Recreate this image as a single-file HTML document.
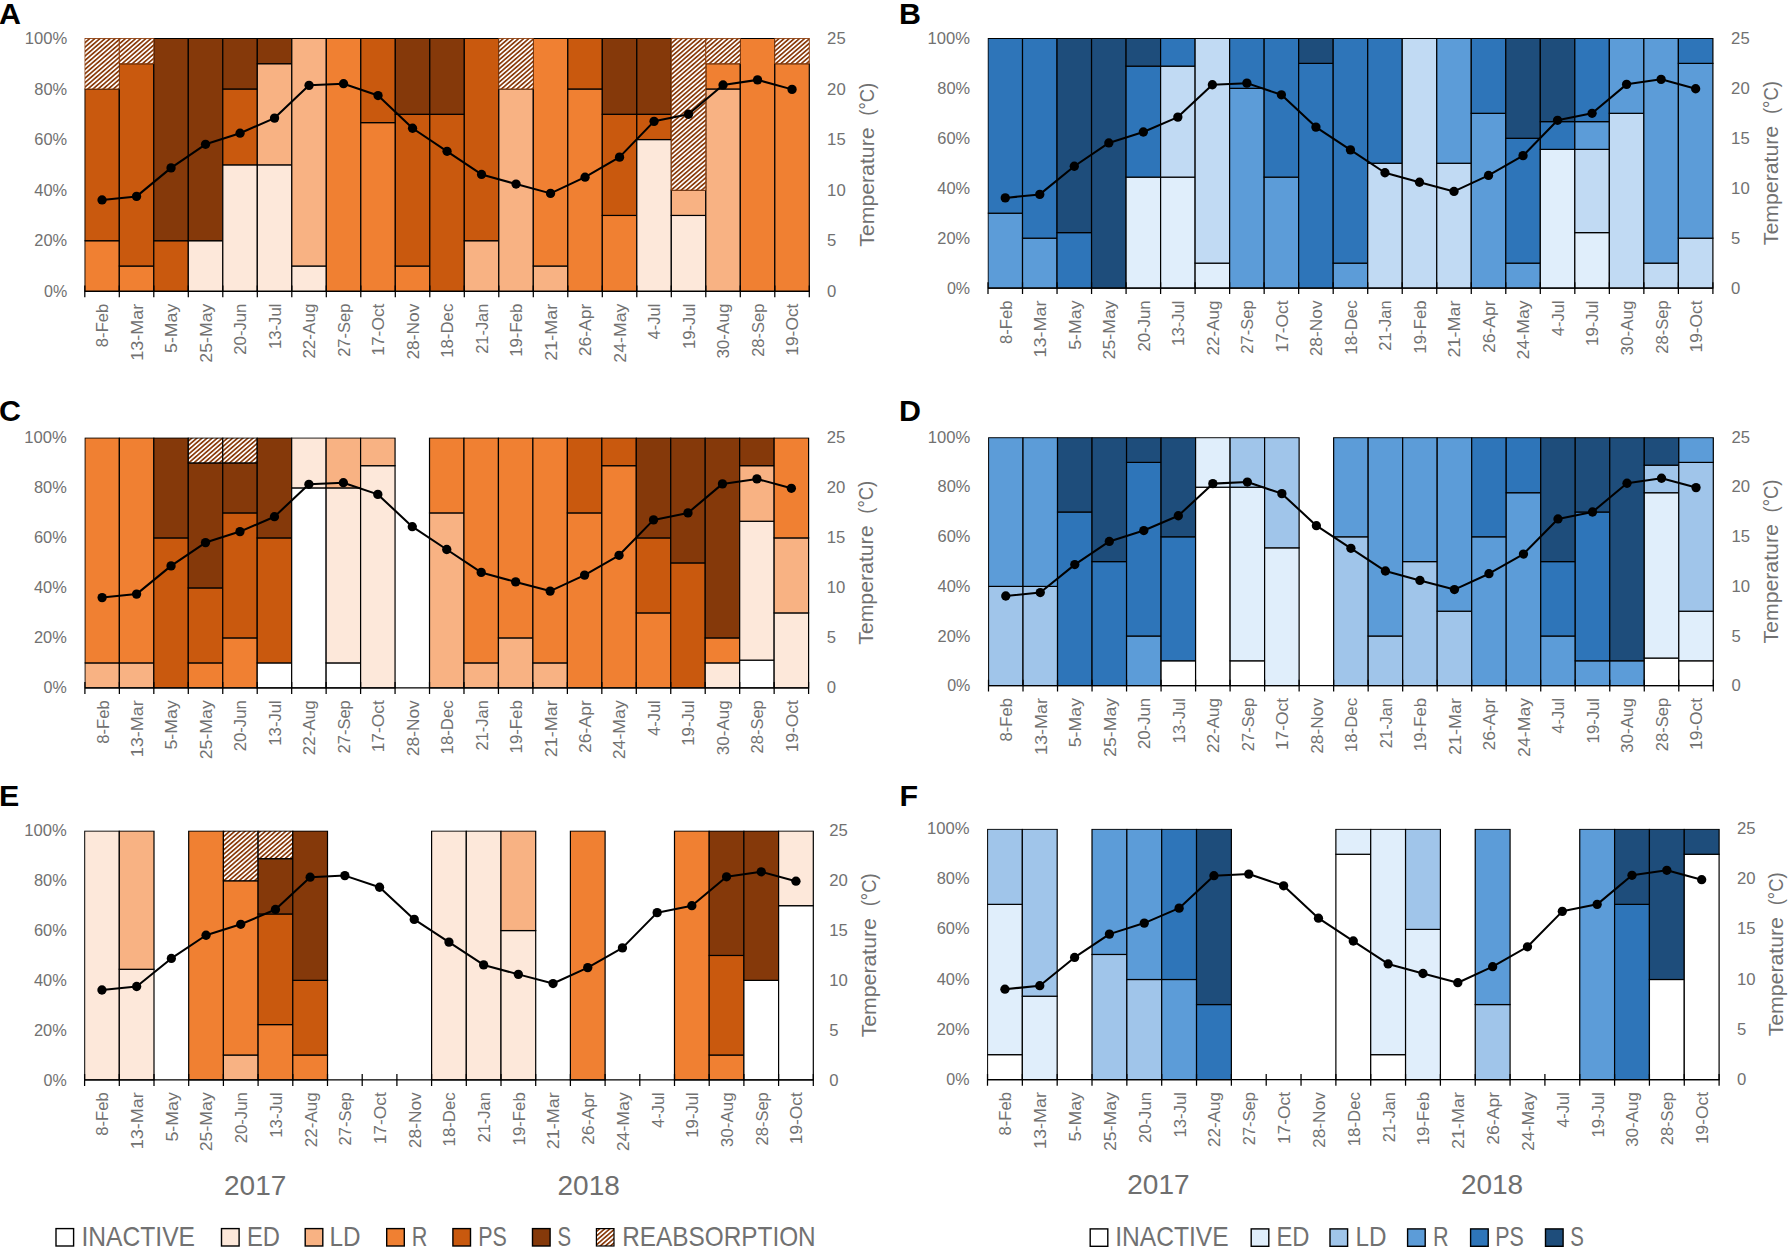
<!DOCTYPE html>
<html lang="en"><head><meta charset="utf-8"><title>Gonad stage frequency and temperature</title>
<style>html,body{margin:0;padding:0;background:#fff}body{width:1790px;height:1249px;overflow:hidden}svg{display:block;font-family:"Liberation Sans",sans-serif}</style></head><body>
<svg width="1790" height="1249" viewBox="0 0 1790 1249" fill="#717171">
<defs><pattern id="hatch" patternUnits="userSpaceOnUse" width="3.35" height="3.35" patternTransform="rotate(-41)"><rect width="3.35" height="3.35" fill="#fff"/><rect y="0" width="3.35" height="1.7" fill="#8A3C0C"/></pattern></defs>
<rect width="1790" height="1249" fill="#fff"/>
<g id="panelA">
<clipPath id="clipA"><rect x="84.4" y="38" width="726.5" height="254.9"/></clipPath>
<g stroke="#000" stroke-width="1.2" clip-path="url(#clipA)">
<rect x="84.8" y="240.72" width="34.5" height="50.58" fill="#F08032"/>
<rect x="84.8" y="88.98" width="34.5" height="151.74" fill="#C9590E"/>
<rect x="119.3" y="266.01" width="34.5" height="25.29" fill="#F08032"/>
<rect x="119.3" y="63.69" width="34.5" height="202.32" fill="#C9590E"/>
<rect x="153.8" y="240.72" width="34.5" height="50.58" fill="#C9590E"/>
<rect x="153.8" y="38.4" width="34.5" height="202.32" fill="#85390A"/>
<rect x="188.3" y="240.72" width="34.5" height="50.58" fill="#FDE8DA"/>
<rect x="188.3" y="38.4" width="34.5" height="202.32" fill="#85390A"/>
<rect x="222.8" y="164.85" width="34.5" height="126.45" fill="#FDE8DA"/>
<rect x="222.8" y="88.98" width="34.5" height="75.87" fill="#C9590E"/>
<rect x="222.8" y="38.4" width="34.5" height="50.58" fill="#85390A"/>
<rect x="257.3" y="164.85" width="34.5" height="126.45" fill="#FDE8DA"/>
<rect x="257.3" y="63.69" width="34.5" height="101.16" fill="#F8B283"/>
<rect x="257.3" y="38.4" width="34.5" height="25.29" fill="#85390A"/>
<rect x="291.8" y="266.01" width="34.5" height="25.29" fill="#FDE8DA"/>
<rect x="291.8" y="38.4" width="34.5" height="227.61" fill="#F8B283"/>
<rect x="326.3" y="38.4" width="34.5" height="252.9" fill="#F08032"/>
<rect x="360.8" y="122.62" width="34.5" height="168.68" fill="#F08032"/>
<rect x="360.8" y="38.4" width="34.5" height="84.22" fill="#C9590E"/>
<rect x="395.3" y="266.01" width="34.5" height="25.29" fill="#F08032"/>
<rect x="395.3" y="114.27" width="34.5" height="151.74" fill="#C9590E"/>
<rect x="395.3" y="38.4" width="34.5" height="75.87" fill="#85390A"/>
<rect x="429.8" y="114.27" width="34.5" height="177.03" fill="#C9590E"/>
<rect x="429.8" y="38.4" width="34.5" height="75.87" fill="#85390A"/>
<rect x="464.3" y="240.72" width="34.5" height="50.58" fill="#F8B283"/>
<rect x="464.3" y="38.4" width="34.5" height="202.32" fill="#C9590E"/>
<rect x="498.8" y="88.98" width="34.5" height="202.32" fill="#F8B283"/>
<rect x="533.3" y="266.01" width="34.5" height="25.29" fill="#F8B283"/>
<rect x="533.3" y="38.4" width="34.5" height="227.61" fill="#F08032"/>
<rect x="567.8" y="88.98" width="34.5" height="202.32" fill="#F08032"/>
<rect x="567.8" y="38.4" width="34.5" height="50.58" fill="#C9590E"/>
<rect x="602.3" y="215.43" width="34.5" height="75.87" fill="#F08032"/>
<rect x="602.3" y="114.27" width="34.5" height="101.16" fill="#C9590E"/>
<rect x="602.3" y="38.4" width="34.5" height="75.87" fill="#85390A"/>
<rect x="636.8" y="139.56" width="34.5" height="151.74" fill="#FDE8DA"/>
<rect x="636.8" y="114.27" width="34.5" height="25.29" fill="#C9590E"/>
<rect x="636.8" y="38.4" width="34.5" height="75.87" fill="#85390A"/>
<rect x="671.3" y="215.43" width="34.5" height="75.87" fill="#FDE8DA"/>
<rect x="671.3" y="190.14" width="34.5" height="25.29" fill="#F8B283"/>
<rect x="705.8" y="88.98" width="34.5" height="202.32" fill="#F8B283"/>
<rect x="705.8" y="63.69" width="34.5" height="25.29" fill="#F08032"/>
<rect x="740.3" y="38.4" width="34.5" height="252.9" fill="#F08032"/>
<rect x="774.8" y="63.69" width="34.5" height="227.61" fill="#F08032"/>
</g>
<g stroke="#8A3C0C" stroke-width="0.9" clip-path="url(#clipA)">
<rect x="84.8" y="38.4" width="34.5" height="50.58" fill="url(#hatch)"/>
<rect x="119.3" y="38.4" width="34.5" height="25.29" fill="url(#hatch)"/>
<rect x="498.8" y="38.4" width="34.5" height="50.58" fill="url(#hatch)"/>
<rect x="671.3" y="38.4" width="34.5" height="151.74" fill="url(#hatch)"/>
<rect x="705.8" y="38.4" width="34.5" height="25.29" fill="url(#hatch)"/>
<rect x="774.8" y="38.4" width="34.5" height="25.29" fill="url(#hatch)"/>
</g>
<path d="M84.2 291.3H809.9M84.8 285.5V297.3M119.3 285.5V297.3M153.8 285.5V297.3M188.3 285.5V297.3M222.8 285.5V297.3M257.3 285.5V297.3M291.8 285.5V297.3M326.3 285.5V297.3M360.8 285.5V297.3M395.3 285.5V297.3M429.8 285.5V297.3M464.3 285.5V297.3M498.8 285.5V297.3M533.3 285.5V297.3M567.8 285.5V297.3M602.3 285.5V297.3M636.8 285.5V297.3M671.3 285.5V297.3M705.8 285.5V297.3M740.3 285.5V297.3M774.8 285.5V297.3M809.3 285.5V297.3" stroke="#000" stroke-width="1.25" fill="none"/>
<polyline points="102.05,199.95 136.55,196.41 171.05,167.88 205.55,144.31 240.05,133.19 274.55,118.11 309.05,85.34 343.55,83.72 378.05,95.56 412.55,128.23 447.05,151.29 481.55,174.46 516.05,184.07 550.55,193.38 585.05,177.19 619.55,157.16 654.05,121.35 688.55,114.27 723.05,84.93 757.55,79.88 792.05,89.38" fill="none" stroke="#000" stroke-width="2.05" stroke-linejoin="round"/>
<g fill="#000"><circle cx="102.05" cy="199.95" r="4.65"/><circle cx="136.55" cy="196.41" r="4.65"/><circle cx="171.05" cy="167.88" r="4.65"/><circle cx="205.55" cy="144.31" r="4.65"/><circle cx="240.05" cy="133.19" r="4.65"/><circle cx="274.55" cy="118.11" r="4.65"/><circle cx="309.05" cy="85.34" r="4.65"/><circle cx="343.55" cy="83.72" r="4.65"/><circle cx="378.05" cy="95.56" r="4.65"/><circle cx="412.55" cy="128.23" r="4.65"/><circle cx="447.05" cy="151.29" r="4.65"/><circle cx="481.55" cy="174.46" r="4.65"/><circle cx="516.05" cy="184.07" r="4.65"/><circle cx="550.55" cy="193.38" r="4.65"/><circle cx="585.05" cy="177.19" r="4.65"/><circle cx="619.55" cy="157.16" r="4.65"/><circle cx="654.05" cy="121.35" r="4.65"/><circle cx="688.55" cy="114.27" r="4.65"/><circle cx="723.05" cy="84.93" r="4.65"/><circle cx="757.55" cy="79.88" r="4.65"/><circle cx="792.05" cy="89.38" r="4.65"/></g>
<text x="67.2" y="296.9" font-size="17" text-anchor="end" textLength="23.22" lengthAdjust="spacingAndGlyphs">0%</text>
<text x="67.2" y="246.38" font-size="17" text-anchor="end" textLength="32.85" lengthAdjust="spacingAndGlyphs">20%</text>
<text x="67.2" y="195.86" font-size="17" text-anchor="end" textLength="32.85" lengthAdjust="spacingAndGlyphs">40%</text>
<text x="67.2" y="145.34" font-size="17" text-anchor="end" textLength="32.85" lengthAdjust="spacingAndGlyphs">60%</text>
<text x="67.2" y="94.82" font-size="17" text-anchor="end" textLength="32.85" lengthAdjust="spacingAndGlyphs">80%</text>
<text x="67.2" y="44.3" font-size="17" text-anchor="end" textLength="42.48" lengthAdjust="spacingAndGlyphs">100%</text>
<text x="827.1" y="296.9" font-size="17" textLength="9.3" lengthAdjust="spacingAndGlyphs">0</text>
<text x="827.1" y="246.38" font-size="17" textLength="9.3" lengthAdjust="spacingAndGlyphs">5</text>
<text x="827.1" y="195.86" font-size="17" textLength="18.59" lengthAdjust="spacingAndGlyphs">10</text>
<text x="827.1" y="145.34" font-size="17" textLength="18.59" lengthAdjust="spacingAndGlyphs">15</text>
<text x="827.1" y="94.82" font-size="17" textLength="18.59" lengthAdjust="spacingAndGlyphs">20</text>
<text x="827.1" y="44.3" font-size="17" textLength="18.59" lengthAdjust="spacingAndGlyphs">25</text>
<text x="873.6" y="246.75" font-size="21" textLength="119.3" lengthAdjust="spacingAndGlyphs" transform="rotate(-90 873.6 246.75)">Temperature</text>
<text x="873.6" y="115.65" font-size="21" textLength="32.8" lengthAdjust="spacingAndGlyphs" transform="rotate(-90 873.6 115.65)">(°C)</text>
<text x="108.45" y="303.6" font-size="17" text-anchor="end" textLength="43.6" lengthAdjust="spacingAndGlyphs" transform="rotate(-90 108.45 303.6)">8-Feb</text>
<text x="142.95" y="303.6" font-size="17" text-anchor="end" textLength="57.06" lengthAdjust="spacingAndGlyphs" transform="rotate(-90 142.95 303.6)">13-Mar</text>
<text x="177.45" y="303.6" font-size="17" text-anchor="end" textLength="49.4" lengthAdjust="spacingAndGlyphs" transform="rotate(-90 177.45 303.6)">5-May</text>
<text x="211.95" y="303.6" font-size="17" text-anchor="end" textLength="59.03" lengthAdjust="spacingAndGlyphs" transform="rotate(-90 211.95 303.6)">25-May</text>
<text x="246.45" y="303.6" font-size="17" text-anchor="end" textLength="51.09" lengthAdjust="spacingAndGlyphs" transform="rotate(-90 246.45 303.6)">20-Jun</text>
<text x="280.95" y="303.6" font-size="17" text-anchor="end" textLength="45.47" lengthAdjust="spacingAndGlyphs" transform="rotate(-90 280.95 303.6)">13-Jul</text>
<text x="315.45" y="303.6" font-size="17" text-anchor="end" textLength="55.01" lengthAdjust="spacingAndGlyphs" transform="rotate(-90 315.45 303.6)">22-Aug</text>
<text x="349.95" y="303.6" font-size="17" text-anchor="end" textLength="53.24" lengthAdjust="spacingAndGlyphs" transform="rotate(-90 349.95 303.6)">27-Sep</text>
<text x="384.45" y="303.6" font-size="17" text-anchor="end" textLength="52.06" lengthAdjust="spacingAndGlyphs" transform="rotate(-90 384.45 303.6)">17-Oct</text>
<text x="418.95" y="303.6" font-size="17" text-anchor="end" textLength="55.96" lengthAdjust="spacingAndGlyphs" transform="rotate(-90 418.95 303.6)">28-Nov</text>
<text x="453.45" y="303.6" font-size="17" text-anchor="end" textLength="54.26" lengthAdjust="spacingAndGlyphs" transform="rotate(-90 453.45 303.6)">18-Dec</text>
<text x="487.95" y="303.6" font-size="17" text-anchor="end" textLength="50.22" lengthAdjust="spacingAndGlyphs" transform="rotate(-90 487.95 303.6)">21-Jan</text>
<text x="522.45" y="303.6" font-size="17" text-anchor="end" textLength="53.24" lengthAdjust="spacingAndGlyphs" transform="rotate(-90 522.45 303.6)">19-Feb</text>
<text x="556.95" y="303.6" font-size="17" text-anchor="end" textLength="57.06" lengthAdjust="spacingAndGlyphs" transform="rotate(-90 556.95 303.6)">21-Mar</text>
<text x="591.45" y="303.6" font-size="17" text-anchor="end" textLength="52.69" lengthAdjust="spacingAndGlyphs" transform="rotate(-90 591.45 303.6)">26-Apr</text>
<text x="625.95" y="303.6" font-size="17" text-anchor="end" textLength="59.03" lengthAdjust="spacingAndGlyphs" transform="rotate(-90 625.95 303.6)">24-May</text>
<text x="660.45" y="303.6" font-size="17" text-anchor="end" textLength="35.83" lengthAdjust="spacingAndGlyphs" transform="rotate(-90 660.45 303.6)">4-Jul</text>
<text x="694.95" y="303.6" font-size="17" text-anchor="end" textLength="45.47" lengthAdjust="spacingAndGlyphs" transform="rotate(-90 694.95 303.6)">19-Jul</text>
<text x="729.45" y="303.6" font-size="17" text-anchor="end" textLength="55.01" lengthAdjust="spacingAndGlyphs" transform="rotate(-90 729.45 303.6)">30-Aug</text>
<text x="763.95" y="303.6" font-size="17" text-anchor="end" textLength="53.24" lengthAdjust="spacingAndGlyphs" transform="rotate(-90 763.95 303.6)">28-Sep</text>
<text x="798.45" y="303.6" font-size="17" text-anchor="end" textLength="52.06" lengthAdjust="spacingAndGlyphs" transform="rotate(-90 798.45 303.6)">19-Oct</text>
<text x="-1" y="24.4" font-size="30.4" fill="#000" font-weight="bold">A</text>
</g>
<g id="panelB">
<clipPath id="clipB"><rect x="987.6" y="38" width="726.9" height="251.7"/></clipPath>
<g stroke="#000" stroke-width="1.2" clip-path="url(#clipB)">
<rect x="988" y="213.19" width="34.52" height="74.91" fill="#5C9CD8"/>
<rect x="988" y="38.4" width="34.52" height="174.79" fill="#2E75B9"/>
<rect x="1022.52" y="238.16" width="34.52" height="49.94" fill="#5C9CD8"/>
<rect x="1022.52" y="38.4" width="34.52" height="199.76" fill="#2E75B9"/>
<rect x="1057.04" y="232.61" width="34.52" height="55.49" fill="#2E75B9"/>
<rect x="1057.04" y="38.4" width="34.52" height="194.21" fill="#1E4D7B"/>
<rect x="1091.56" y="38.4" width="34.52" height="249.7" fill="#1E4D7B"/>
<rect x="1126.08" y="177.12" width="34.52" height="110.98" fill="#E0EEFB"/>
<rect x="1126.08" y="66.14" width="34.52" height="110.98" fill="#2E75B9"/>
<rect x="1126.08" y="38.4" width="34.52" height="27.74" fill="#1E4D7B"/>
<rect x="1160.6" y="177.12" width="34.52" height="110.98" fill="#E0EEFB"/>
<rect x="1160.6" y="66.14" width="34.52" height="110.98" fill="#C1DAF3"/>
<rect x="1160.6" y="38.4" width="34.52" height="27.74" fill="#2E75B9"/>
<rect x="1195.11" y="263.13" width="34.52" height="24.97" fill="#E0EEFB"/>
<rect x="1195.11" y="38.4" width="34.52" height="224.73" fill="#C1DAF3"/>
<rect x="1229.63" y="88.34" width="34.52" height="199.76" fill="#5C9CD8"/>
<rect x="1229.63" y="38.4" width="34.52" height="49.94" fill="#2E75B9"/>
<rect x="1264.15" y="177.12" width="34.52" height="110.98" fill="#5C9CD8"/>
<rect x="1264.15" y="38.4" width="34.52" height="138.72" fill="#2E75B9"/>
<rect x="1298.67" y="63.37" width="34.52" height="224.73" fill="#2E75B9"/>
<rect x="1298.67" y="38.4" width="34.52" height="24.97" fill="#1E4D7B"/>
<rect x="1333.19" y="263.13" width="34.52" height="24.97" fill="#5C9CD8"/>
<rect x="1333.19" y="38.4" width="34.52" height="224.73" fill="#2E75B9"/>
<rect x="1367.71" y="163.25" width="34.52" height="124.85" fill="#C1DAF3"/>
<rect x="1367.71" y="38.4" width="34.52" height="124.85" fill="#2E75B9"/>
<rect x="1402.23" y="38.4" width="34.52" height="249.7" fill="#C1DAF3"/>
<rect x="1436.75" y="163.25" width="34.52" height="124.85" fill="#C1DAF3"/>
<rect x="1436.75" y="38.4" width="34.52" height="124.85" fill="#5C9CD8"/>
<rect x="1471.27" y="113.31" width="34.52" height="174.79" fill="#5C9CD8"/>
<rect x="1471.27" y="38.4" width="34.52" height="74.91" fill="#2E75B9"/>
<rect x="1505.79" y="263.13" width="34.52" height="24.97" fill="#5C9CD8"/>
<rect x="1505.79" y="138.28" width="34.52" height="124.85" fill="#2E75B9"/>
<rect x="1505.79" y="38.4" width="34.52" height="99.88" fill="#1E4D7B"/>
<rect x="1540.3" y="149.38" width="34.52" height="138.72" fill="#E0EEFB"/>
<rect x="1540.3" y="121.63" width="34.52" height="27.74" fill="#2E75B9"/>
<rect x="1540.3" y="38.4" width="34.52" height="83.23" fill="#1E4D7B"/>
<rect x="1574.82" y="232.61" width="34.52" height="55.49" fill="#E0EEFB"/>
<rect x="1574.82" y="149.38" width="34.52" height="83.23" fill="#C1DAF3"/>
<rect x="1574.82" y="121.63" width="34.52" height="27.74" fill="#5C9CD8"/>
<rect x="1574.82" y="38.4" width="34.52" height="83.23" fill="#2E75B9"/>
<rect x="1609.34" y="113.31" width="34.52" height="174.79" fill="#C1DAF3"/>
<rect x="1609.34" y="38.4" width="34.52" height="74.91" fill="#5C9CD8"/>
<rect x="1643.86" y="263.13" width="34.52" height="24.97" fill="#C1DAF3"/>
<rect x="1643.86" y="38.4" width="34.52" height="224.73" fill="#5C9CD8"/>
<rect x="1678.38" y="238.16" width="34.52" height="49.94" fill="#C1DAF3"/>
<rect x="1678.38" y="63.37" width="34.52" height="174.79" fill="#5C9CD8"/>
<rect x="1678.38" y="38.4" width="34.52" height="24.97" fill="#2E75B9"/>
</g>
<path d="M987.4 288.1H1713.5M988 282.3V294.1M1022.52 282.3V294.1M1057.04 282.3V294.1M1091.56 282.3V294.1M1126.08 282.3V294.1M1160.6 282.3V294.1M1195.11 282.3V294.1M1229.63 282.3V294.1M1264.15 282.3V294.1M1298.67 282.3V294.1M1333.19 282.3V294.1M1367.71 282.3V294.1M1402.23 282.3V294.1M1436.75 282.3V294.1M1471.27 282.3V294.1M1505.79 282.3V294.1M1540.3 282.3V294.1M1574.82 282.3V294.1M1609.34 282.3V294.1M1643.86 282.3V294.1M1678.38 282.3V294.1M1712.9 282.3V294.1" stroke="#000" stroke-width="1.25" fill="none"/>
<polyline points="1005.26,197.91 1039.78,194.41 1074.3,166.25 1108.82,142.97 1143.34,131.99 1177.85,117.11 1212.37,84.74 1246.89,83.15 1281.41,94.83 1315.93,127.09 1350.45,149.87 1384.97,172.74 1419.49,182.23 1454.01,191.42 1488.53,175.44 1523.05,155.66 1557.56,120.3 1592.08,113.31 1626.6,84.34 1661.12,79.35 1695.64,88.74" fill="none" stroke="#000" stroke-width="2.05" stroke-linejoin="round"/>
<g fill="#000"><circle cx="1005.26" cy="197.91" r="4.65"/><circle cx="1039.78" cy="194.41" r="4.65"/><circle cx="1074.3" cy="166.25" r="4.65"/><circle cx="1108.82" cy="142.97" r="4.65"/><circle cx="1143.34" cy="131.99" r="4.65"/><circle cx="1177.85" cy="117.11" r="4.65"/><circle cx="1212.37" cy="84.74" r="4.65"/><circle cx="1246.89" cy="83.15" r="4.65"/><circle cx="1281.41" cy="94.83" r="4.65"/><circle cx="1315.93" cy="127.09" r="4.65"/><circle cx="1350.45" cy="149.87" r="4.65"/><circle cx="1384.97" cy="172.74" r="4.65"/><circle cx="1419.49" cy="182.23" r="4.65"/><circle cx="1454.01" cy="191.42" r="4.65"/><circle cx="1488.53" cy="175.44" r="4.65"/><circle cx="1523.05" cy="155.66" r="4.65"/><circle cx="1557.56" cy="120.3" r="4.65"/><circle cx="1592.08" cy="113.31" r="4.65"/><circle cx="1626.6" cy="84.34" r="4.65"/><circle cx="1661.12" cy="79.35" r="4.65"/><circle cx="1695.64" cy="88.74" r="4.65"/></g>
<text x="970.1" y="293.7" font-size="17" text-anchor="end" textLength="23.22" lengthAdjust="spacingAndGlyphs">0%</text>
<text x="970.1" y="243.72" font-size="17" text-anchor="end" textLength="32.85" lengthAdjust="spacingAndGlyphs">20%</text>
<text x="970.1" y="193.74" font-size="17" text-anchor="end" textLength="32.85" lengthAdjust="spacingAndGlyphs">40%</text>
<text x="970.1" y="143.76" font-size="17" text-anchor="end" textLength="32.85" lengthAdjust="spacingAndGlyphs">60%</text>
<text x="970.1" y="93.78" font-size="17" text-anchor="end" textLength="32.85" lengthAdjust="spacingAndGlyphs">80%</text>
<text x="970.1" y="43.8" font-size="17" text-anchor="end" textLength="42.48" lengthAdjust="spacingAndGlyphs">100%</text>
<text x="1731.1" y="293.7" font-size="17" textLength="9.3" lengthAdjust="spacingAndGlyphs">0</text>
<text x="1731.1" y="243.72" font-size="17" textLength="9.3" lengthAdjust="spacingAndGlyphs">5</text>
<text x="1731.1" y="193.74" font-size="17" textLength="18.59" lengthAdjust="spacingAndGlyphs">10</text>
<text x="1731.1" y="143.76" font-size="17" textLength="18.59" lengthAdjust="spacingAndGlyphs">15</text>
<text x="1731.1" y="93.78" font-size="17" textLength="18.59" lengthAdjust="spacingAndGlyphs">20</text>
<text x="1731.1" y="43.8" font-size="17" textLength="18.59" lengthAdjust="spacingAndGlyphs">25</text>
<text x="1777.6" y="245.15" font-size="21" textLength="119.3" lengthAdjust="spacingAndGlyphs" transform="rotate(-90 1777.6 245.15)">Temperature</text>
<text x="1777.6" y="114.05" font-size="21" textLength="32.8" lengthAdjust="spacingAndGlyphs" transform="rotate(-90 1777.6 114.05)">(°C)</text>
<text x="1011.66" y="300.4" font-size="17" text-anchor="end" textLength="43.6" lengthAdjust="spacingAndGlyphs" transform="rotate(-90 1011.66 300.4)">8-Feb</text>
<text x="1046.18" y="300.4" font-size="17" text-anchor="end" textLength="57.06" lengthAdjust="spacingAndGlyphs" transform="rotate(-90 1046.18 300.4)">13-Mar</text>
<text x="1080.7" y="300.4" font-size="17" text-anchor="end" textLength="49.4" lengthAdjust="spacingAndGlyphs" transform="rotate(-90 1080.7 300.4)">5-May</text>
<text x="1115.22" y="300.4" font-size="17" text-anchor="end" textLength="59.03" lengthAdjust="spacingAndGlyphs" transform="rotate(-90 1115.22 300.4)">25-May</text>
<text x="1149.74" y="300.4" font-size="17" text-anchor="end" textLength="51.09" lengthAdjust="spacingAndGlyphs" transform="rotate(-90 1149.74 300.4)">20-Jun</text>
<text x="1184.25" y="300.4" font-size="17" text-anchor="end" textLength="45.47" lengthAdjust="spacingAndGlyphs" transform="rotate(-90 1184.25 300.4)">13-Jul</text>
<text x="1218.77" y="300.4" font-size="17" text-anchor="end" textLength="55.01" lengthAdjust="spacingAndGlyphs" transform="rotate(-90 1218.77 300.4)">22-Aug</text>
<text x="1253.29" y="300.4" font-size="17" text-anchor="end" textLength="53.24" lengthAdjust="spacingAndGlyphs" transform="rotate(-90 1253.29 300.4)">27-Sep</text>
<text x="1287.81" y="300.4" font-size="17" text-anchor="end" textLength="52.06" lengthAdjust="spacingAndGlyphs" transform="rotate(-90 1287.81 300.4)">17-Oct</text>
<text x="1322.33" y="300.4" font-size="17" text-anchor="end" textLength="55.96" lengthAdjust="spacingAndGlyphs" transform="rotate(-90 1322.33 300.4)">28-Nov</text>
<text x="1356.85" y="300.4" font-size="17" text-anchor="end" textLength="54.26" lengthAdjust="spacingAndGlyphs" transform="rotate(-90 1356.85 300.4)">18-Dec</text>
<text x="1391.37" y="300.4" font-size="17" text-anchor="end" textLength="50.22" lengthAdjust="spacingAndGlyphs" transform="rotate(-90 1391.37 300.4)">21-Jan</text>
<text x="1425.89" y="300.4" font-size="17" text-anchor="end" textLength="53.24" lengthAdjust="spacingAndGlyphs" transform="rotate(-90 1425.89 300.4)">19-Feb</text>
<text x="1460.41" y="300.4" font-size="17" text-anchor="end" textLength="57.06" lengthAdjust="spacingAndGlyphs" transform="rotate(-90 1460.41 300.4)">21-Mar</text>
<text x="1494.93" y="300.4" font-size="17" text-anchor="end" textLength="52.69" lengthAdjust="spacingAndGlyphs" transform="rotate(-90 1494.93 300.4)">26-Apr</text>
<text x="1529.45" y="300.4" font-size="17" text-anchor="end" textLength="59.03" lengthAdjust="spacingAndGlyphs" transform="rotate(-90 1529.45 300.4)">24-May</text>
<text x="1563.96" y="300.4" font-size="17" text-anchor="end" textLength="35.83" lengthAdjust="spacingAndGlyphs" transform="rotate(-90 1563.96 300.4)">4-Jul</text>
<text x="1598.48" y="300.4" font-size="17" text-anchor="end" textLength="45.47" lengthAdjust="spacingAndGlyphs" transform="rotate(-90 1598.48 300.4)">19-Jul</text>
<text x="1633" y="300.4" font-size="17" text-anchor="end" textLength="55.01" lengthAdjust="spacingAndGlyphs" transform="rotate(-90 1633 300.4)">30-Aug</text>
<text x="1667.52" y="300.4" font-size="17" text-anchor="end" textLength="53.24" lengthAdjust="spacingAndGlyphs" transform="rotate(-90 1667.52 300.4)">28-Sep</text>
<text x="1702.04" y="300.4" font-size="17" text-anchor="end" textLength="52.06" lengthAdjust="spacingAndGlyphs" transform="rotate(-90 1702.04 300.4)">19-Oct</text>
<text x="899" y="24" font-size="30.4" fill="#000" font-weight="bold">B</text>
</g>
<g id="panelC">
<clipPath id="clipC"><rect x="84.5" y="437.5" width="725.7" height="252"/></clipPath>
<g stroke="#000" stroke-width="1.2" clip-path="url(#clipC)">
<rect x="84.9" y="662.9" width="34.46" height="25" fill="#F8B283"/>
<rect x="84.9" y="437.9" width="34.46" height="225" fill="#F08032"/>
<rect x="119.36" y="662.9" width="34.46" height="25" fill="#F8B283"/>
<rect x="119.36" y="437.9" width="34.46" height="225" fill="#F08032"/>
<rect x="153.82" y="537.9" width="34.46" height="150" fill="#C9590E"/>
<rect x="153.82" y="437.9" width="34.46" height="100" fill="#85390A"/>
<rect x="188.29" y="662.9" width="34.46" height="25" fill="#F08032"/>
<rect x="188.29" y="587.9" width="34.46" height="75" fill="#C9590E"/>
<rect x="188.29" y="462.9" width="34.46" height="125" fill="#85390A"/>
<rect x="188.29" y="437.9" width="34.46" height="25" fill="url(#hatch)"/>
<rect x="222.75" y="637.9" width="34.46" height="50" fill="#F08032"/>
<rect x="222.75" y="512.9" width="34.46" height="125" fill="#C9590E"/>
<rect x="222.75" y="462.9" width="34.46" height="50" fill="#85390A"/>
<rect x="222.75" y="437.9" width="34.46" height="25" fill="url(#hatch)"/>
<rect x="257.21" y="662.9" width="34.46" height="25" fill="#FFFFFF"/>
<rect x="257.21" y="537.9" width="34.46" height="125" fill="#C9590E"/>
<rect x="257.21" y="437.9" width="34.46" height="100" fill="#85390A"/>
<rect x="291.67" y="487.9" width="34.46" height="200" fill="#FFFFFF"/>
<rect x="291.67" y="437.9" width="34.46" height="50" fill="#FDE8DA"/>
<rect x="326.13" y="662.9" width="34.46" height="25" fill="#FFFFFF"/>
<rect x="326.13" y="487.9" width="34.46" height="175" fill="#FDE8DA"/>
<rect x="326.13" y="437.9" width="34.46" height="50" fill="#F8B283"/>
<rect x="360.6" y="465.68" width="34.46" height="222.22" fill="#FDE8DA"/>
<rect x="360.6" y="437.9" width="34.46" height="27.78" fill="#F8B283"/>
<rect x="429.52" y="512.9" width="34.46" height="175" fill="#F8B283"/>
<rect x="429.52" y="437.9" width="34.46" height="75" fill="#F08032"/>
<rect x="463.98" y="662.9" width="34.46" height="25" fill="#F8B283"/>
<rect x="463.98" y="437.9" width="34.46" height="225" fill="#F08032"/>
<rect x="498.44" y="637.9" width="34.46" height="50" fill="#F8B283"/>
<rect x="498.44" y="437.9" width="34.46" height="200" fill="#F08032"/>
<rect x="532.9" y="662.9" width="34.46" height="25" fill="#F8B283"/>
<rect x="532.9" y="437.9" width="34.46" height="225" fill="#F08032"/>
<rect x="567.37" y="512.9" width="34.46" height="175" fill="#F08032"/>
<rect x="567.37" y="437.9" width="34.46" height="75" fill="#C9590E"/>
<rect x="601.83" y="465.68" width="34.46" height="222.22" fill="#F08032"/>
<rect x="601.83" y="437.9" width="34.46" height="27.78" fill="#C9590E"/>
<rect x="636.29" y="612.9" width="34.46" height="75" fill="#F08032"/>
<rect x="636.29" y="537.9" width="34.46" height="75" fill="#C9590E"/>
<rect x="636.29" y="437.9" width="34.46" height="100" fill="#85390A"/>
<rect x="670.75" y="562.9" width="34.46" height="125" fill="#C9590E"/>
<rect x="670.75" y="437.9" width="34.46" height="125" fill="#85390A"/>
<rect x="705.21" y="662.9" width="34.46" height="25" fill="#FDE8DA"/>
<rect x="705.21" y="637.9" width="34.46" height="25" fill="#F08032"/>
<rect x="705.21" y="437.9" width="34.46" height="200" fill="#85390A"/>
<rect x="739.68" y="660.12" width="34.46" height="27.78" fill="#FFFFFF"/>
<rect x="739.68" y="521.23" width="34.46" height="138.89" fill="#FDE8DA"/>
<rect x="739.68" y="465.68" width="34.46" height="55.56" fill="#F8B283"/>
<rect x="739.68" y="437.9" width="34.46" height="27.78" fill="#85390A"/>
<rect x="774.14" y="612.9" width="34.46" height="75" fill="#FDE8DA"/>
<rect x="774.14" y="537.9" width="34.46" height="75" fill="#F8B283"/>
<rect x="774.14" y="437.9" width="34.46" height="100" fill="#F08032"/>
</g>
<path d="M84.3 687.9H809.2M84.9 682.1V693.9M119.36 682.1V693.9M153.82 682.1V693.9M188.29 682.1V693.9M222.75 682.1V693.9M257.21 682.1V693.9M291.67 682.1V693.9M326.13 682.1V693.9M360.6 682.1V693.9M395.06 682.1V693.9M429.52 682.1V693.9M463.98 682.1V693.9M498.44 682.1V693.9M532.9 682.1V693.9M567.37 682.1V693.9M601.83 682.1V693.9M636.29 682.1V693.9M670.75 682.1V693.9M705.21 682.1V693.9M739.68 682.1V693.9M774.14 682.1V693.9M808.6 682.1V693.9" stroke="#000" stroke-width="1.25" fill="none"/>
<polyline points="102.13,597.6 136.59,594.1 171.05,565.9 205.52,542.6 239.98,531.6 274.44,516.7 308.9,484.3 343.36,482.7 377.83,494.4 412.29,526.7 446.75,549.5 481.21,572.4 515.67,581.9 550.14,591.1 584.6,575.1 619.06,555.3 653.52,519.9 687.98,512.9 722.45,483.9 756.91,478.9 791.37,488.3" fill="none" stroke="#000" stroke-width="2.05" stroke-linejoin="round"/>
<g fill="#000"><circle cx="102.13" cy="597.6" r="4.65"/><circle cx="136.59" cy="594.1" r="4.65"/><circle cx="171.05" cy="565.9" r="4.65"/><circle cx="205.52" cy="542.6" r="4.65"/><circle cx="239.98" cy="531.6" r="4.65"/><circle cx="274.44" cy="516.7" r="4.65"/><circle cx="308.9" cy="484.3" r="4.65"/><circle cx="343.36" cy="482.7" r="4.65"/><circle cx="377.83" cy="494.4" r="4.65"/><circle cx="412.29" cy="526.7" r="4.65"/><circle cx="446.75" cy="549.5" r="4.65"/><circle cx="481.21" cy="572.4" r="4.65"/><circle cx="515.67" cy="581.9" r="4.65"/><circle cx="550.14" cy="591.1" r="4.65"/><circle cx="584.6" cy="575.1" r="4.65"/><circle cx="619.06" cy="555.3" r="4.65"/><circle cx="653.52" cy="519.9" r="4.65"/><circle cx="687.98" cy="512.9" r="4.65"/><circle cx="722.45" cy="483.9" r="4.65"/><circle cx="756.91" cy="478.9" r="4.65"/><circle cx="791.37" cy="488.3" r="4.65"/></g>
<text x="66.8" y="693.45" font-size="17" text-anchor="end" textLength="23.22" lengthAdjust="spacingAndGlyphs">0%</text>
<text x="66.8" y="643.34" font-size="17" text-anchor="end" textLength="32.85" lengthAdjust="spacingAndGlyphs">20%</text>
<text x="66.8" y="593.23" font-size="17" text-anchor="end" textLength="32.85" lengthAdjust="spacingAndGlyphs">40%</text>
<text x="66.8" y="543.12" font-size="17" text-anchor="end" textLength="32.85" lengthAdjust="spacingAndGlyphs">60%</text>
<text x="66.8" y="493.01" font-size="17" text-anchor="end" textLength="32.85" lengthAdjust="spacingAndGlyphs">80%</text>
<text x="66.8" y="442.9" font-size="17" text-anchor="end" textLength="42.48" lengthAdjust="spacingAndGlyphs">100%</text>
<text x="826.8" y="693.45" font-size="17" textLength="9.3" lengthAdjust="spacingAndGlyphs">0</text>
<text x="826.8" y="643.34" font-size="17" textLength="9.3" lengthAdjust="spacingAndGlyphs">5</text>
<text x="826.8" y="593.23" font-size="17" textLength="18.59" lengthAdjust="spacingAndGlyphs">10</text>
<text x="826.8" y="543.12" font-size="17" textLength="18.59" lengthAdjust="spacingAndGlyphs">15</text>
<text x="826.8" y="493.01" font-size="17" textLength="18.59" lengthAdjust="spacingAndGlyphs">20</text>
<text x="826.8" y="442.9" font-size="17" textLength="18.59" lengthAdjust="spacingAndGlyphs">25</text>
<text x="873.3" y="644.8" font-size="21" textLength="119.3" lengthAdjust="spacingAndGlyphs" transform="rotate(-90 873.3 644.8)">Temperature</text>
<text x="873.3" y="513.7" font-size="21" textLength="32.8" lengthAdjust="spacingAndGlyphs" transform="rotate(-90 873.3 513.7)">(°C)</text>
<text x="108.53" y="700.2" font-size="17" text-anchor="end" textLength="43.6" lengthAdjust="spacingAndGlyphs" transform="rotate(-90 108.53 700.2)">8-Feb</text>
<text x="142.99" y="700.2" font-size="17" text-anchor="end" textLength="57.06" lengthAdjust="spacingAndGlyphs" transform="rotate(-90 142.99 700.2)">13-Mar</text>
<text x="177.45" y="700.2" font-size="17" text-anchor="end" textLength="49.4" lengthAdjust="spacingAndGlyphs" transform="rotate(-90 177.45 700.2)">5-May</text>
<text x="211.92" y="700.2" font-size="17" text-anchor="end" textLength="59.03" lengthAdjust="spacingAndGlyphs" transform="rotate(-90 211.92 700.2)">25-May</text>
<text x="246.38" y="700.2" font-size="17" text-anchor="end" textLength="51.09" lengthAdjust="spacingAndGlyphs" transform="rotate(-90 246.38 700.2)">20-Jun</text>
<text x="280.84" y="700.2" font-size="17" text-anchor="end" textLength="45.47" lengthAdjust="spacingAndGlyphs" transform="rotate(-90 280.84 700.2)">13-Jul</text>
<text x="315.3" y="700.2" font-size="17" text-anchor="end" textLength="55.01" lengthAdjust="spacingAndGlyphs" transform="rotate(-90 315.3 700.2)">22-Aug</text>
<text x="349.76" y="700.2" font-size="17" text-anchor="end" textLength="53.24" lengthAdjust="spacingAndGlyphs" transform="rotate(-90 349.76 700.2)">27-Sep</text>
<text x="384.23" y="700.2" font-size="17" text-anchor="end" textLength="52.06" lengthAdjust="spacingAndGlyphs" transform="rotate(-90 384.23 700.2)">17-Oct</text>
<text x="418.69" y="700.2" font-size="17" text-anchor="end" textLength="55.96" lengthAdjust="spacingAndGlyphs" transform="rotate(-90 418.69 700.2)">28-Nov</text>
<text x="453.15" y="700.2" font-size="17" text-anchor="end" textLength="54.26" lengthAdjust="spacingAndGlyphs" transform="rotate(-90 453.15 700.2)">18-Dec</text>
<text x="487.61" y="700.2" font-size="17" text-anchor="end" textLength="50.22" lengthAdjust="spacingAndGlyphs" transform="rotate(-90 487.61 700.2)">21-Jan</text>
<text x="522.07" y="700.2" font-size="17" text-anchor="end" textLength="53.24" lengthAdjust="spacingAndGlyphs" transform="rotate(-90 522.07 700.2)">19-Feb</text>
<text x="556.54" y="700.2" font-size="17" text-anchor="end" textLength="57.06" lengthAdjust="spacingAndGlyphs" transform="rotate(-90 556.54 700.2)">21-Mar</text>
<text x="591" y="700.2" font-size="17" text-anchor="end" textLength="52.69" lengthAdjust="spacingAndGlyphs" transform="rotate(-90 591 700.2)">26-Apr</text>
<text x="625.46" y="700.2" font-size="17" text-anchor="end" textLength="59.03" lengthAdjust="spacingAndGlyphs" transform="rotate(-90 625.46 700.2)">24-May</text>
<text x="659.92" y="700.2" font-size="17" text-anchor="end" textLength="35.83" lengthAdjust="spacingAndGlyphs" transform="rotate(-90 659.92 700.2)">4-Jul</text>
<text x="694.38" y="700.2" font-size="17" text-anchor="end" textLength="45.47" lengthAdjust="spacingAndGlyphs" transform="rotate(-90 694.38 700.2)">19-Jul</text>
<text x="728.85" y="700.2" font-size="17" text-anchor="end" textLength="55.01" lengthAdjust="spacingAndGlyphs" transform="rotate(-90 728.85 700.2)">30-Aug</text>
<text x="763.31" y="700.2" font-size="17" text-anchor="end" textLength="53.24" lengthAdjust="spacingAndGlyphs" transform="rotate(-90 763.31 700.2)">28-Sep</text>
<text x="797.77" y="700.2" font-size="17" text-anchor="end" textLength="52.06" lengthAdjust="spacingAndGlyphs" transform="rotate(-90 797.77 700.2)">19-Oct</text>
<text x="-1" y="421.2" font-size="30.4" fill="#000" font-weight="bold">C</text>
</g>
<g id="panelD">
<clipPath id="clipD"><rect x="988.1" y="437.2" width="726.8" height="250"/></clipPath>
<g stroke="#000" stroke-width="1.2" clip-path="url(#clipD)">
<rect x="988.5" y="586.4" width="34.51" height="99.2" fill="#A0C5EA"/>
<rect x="988.5" y="437.6" width="34.51" height="148.8" fill="#5C9CD8"/>
<rect x="1023.01" y="586.4" width="34.51" height="99.2" fill="#A0C5EA"/>
<rect x="1023.01" y="437.6" width="34.51" height="148.8" fill="#5C9CD8"/>
<rect x="1057.53" y="512" width="34.51" height="173.6" fill="#2E75B9"/>
<rect x="1057.53" y="437.6" width="34.51" height="74.4" fill="#1E4D7B"/>
<rect x="1092.04" y="561.6" width="34.51" height="124" fill="#2E75B9"/>
<rect x="1092.04" y="437.6" width="34.51" height="124" fill="#1E4D7B"/>
<rect x="1126.56" y="636" width="34.51" height="49.6" fill="#5C9CD8"/>
<rect x="1126.56" y="462.4" width="34.51" height="173.6" fill="#2E75B9"/>
<rect x="1126.56" y="437.6" width="34.51" height="24.8" fill="#1E4D7B"/>
<rect x="1161.07" y="660.8" width="34.51" height="24.8" fill="#FFFFFF"/>
<rect x="1161.07" y="536.8" width="34.51" height="124" fill="#2E75B9"/>
<rect x="1161.07" y="437.6" width="34.51" height="99.2" fill="#1E4D7B"/>
<rect x="1195.59" y="487.2" width="34.51" height="198.4" fill="#FFFFFF"/>
<rect x="1195.59" y="437.6" width="34.51" height="49.6" fill="#E0EEFB"/>
<rect x="1230.1" y="660.8" width="34.51" height="24.8" fill="#FFFFFF"/>
<rect x="1230.1" y="487.2" width="34.51" height="173.6" fill="#E0EEFB"/>
<rect x="1230.1" y="437.6" width="34.51" height="49.6" fill="#A0C5EA"/>
<rect x="1264.61" y="547.82" width="34.51" height="137.78" fill="#E0EEFB"/>
<rect x="1264.61" y="437.6" width="34.51" height="110.22" fill="#A0C5EA"/>
<rect x="1333.64" y="536.8" width="34.51" height="148.8" fill="#A0C5EA"/>
<rect x="1333.64" y="437.6" width="34.51" height="99.2" fill="#5C9CD8"/>
<rect x="1368.16" y="636" width="34.51" height="49.6" fill="#A0C5EA"/>
<rect x="1368.16" y="437.6" width="34.51" height="198.4" fill="#5C9CD8"/>
<rect x="1402.67" y="561.6" width="34.51" height="124" fill="#A0C5EA"/>
<rect x="1402.67" y="437.6" width="34.51" height="124" fill="#5C9CD8"/>
<rect x="1437.19" y="611.2" width="34.51" height="74.4" fill="#A0C5EA"/>
<rect x="1437.19" y="437.6" width="34.51" height="173.6" fill="#5C9CD8"/>
<rect x="1471.7" y="536.8" width="34.51" height="148.8" fill="#5C9CD8"/>
<rect x="1471.7" y="437.6" width="34.51" height="99.2" fill="#2E75B9"/>
<rect x="1506.21" y="492.71" width="34.51" height="192.89" fill="#5C9CD8"/>
<rect x="1506.21" y="437.6" width="34.51" height="55.11" fill="#2E75B9"/>
<rect x="1540.73" y="636" width="34.51" height="49.6" fill="#5C9CD8"/>
<rect x="1540.73" y="561.6" width="34.51" height="74.4" fill="#2E75B9"/>
<rect x="1540.73" y="437.6" width="34.51" height="124" fill="#1E4D7B"/>
<rect x="1575.24" y="660.8" width="34.51" height="24.8" fill="#5C9CD8"/>
<rect x="1575.24" y="512" width="34.51" height="148.8" fill="#2E75B9"/>
<rect x="1575.24" y="437.6" width="34.51" height="74.4" fill="#1E4D7B"/>
<rect x="1609.76" y="660.8" width="34.51" height="24.8" fill="#5C9CD8"/>
<rect x="1609.76" y="437.6" width="34.51" height="223.2" fill="#1E4D7B"/>
<rect x="1644.27" y="658.04" width="34.51" height="27.56" fill="#FFFFFF"/>
<rect x="1644.27" y="492.71" width="34.51" height="165.33" fill="#E0EEFB"/>
<rect x="1644.27" y="465.16" width="34.51" height="27.56" fill="#A0C5EA"/>
<rect x="1644.27" y="437.6" width="34.51" height="27.56" fill="#1E4D7B"/>
<rect x="1678.79" y="660.8" width="34.51" height="24.8" fill="#FFFFFF"/>
<rect x="1678.79" y="611.2" width="34.51" height="49.6" fill="#E0EEFB"/>
<rect x="1678.79" y="462.4" width="34.51" height="148.8" fill="#A0C5EA"/>
<rect x="1678.79" y="437.6" width="34.51" height="24.8" fill="#5C9CD8"/>
</g>
<path d="M987.9 685.6H1713.9M988.5 679.8V691.6M1023.01 679.8V691.6M1057.53 679.8V691.6M1092.04 679.8V691.6M1126.56 679.8V691.6M1161.07 679.8V691.6M1195.59 679.8V691.6M1230.1 679.8V691.6M1264.61 679.8V691.6M1299.13 679.8V691.6M1333.64 679.8V691.6M1368.16 679.8V691.6M1402.67 679.8V691.6M1437.19 679.8V691.6M1471.7 679.8V691.6M1506.21 679.8V691.6M1540.73 679.8V691.6M1575.24 679.8V691.6M1609.76 679.8V691.6M1644.27 679.8V691.6M1678.79 679.8V691.6M1713.3 679.8V691.6" stroke="#000" stroke-width="1.25" fill="none"/>
<polyline points="1005.76,596.02 1040.27,592.55 1074.79,564.58 1109.3,541.46 1143.81,530.55 1178.33,515.77 1212.84,483.63 1247.36,482.04 1281.87,493.65 1316.39,525.69 1350.9,548.31 1385.41,571.02 1419.93,580.45 1454.44,589.57 1488.96,573.7 1523.47,554.06 1557.99,518.94 1592.5,512 1627.01,483.23 1661.53,478.27 1696.04,487.6" fill="none" stroke="#000" stroke-width="2.05" stroke-linejoin="round"/>
<g fill="#000"><circle cx="1005.76" cy="596.02" r="4.65"/><circle cx="1040.27" cy="592.55" r="4.65"/><circle cx="1074.79" cy="564.58" r="4.65"/><circle cx="1109.3" cy="541.46" r="4.65"/><circle cx="1143.81" cy="530.55" r="4.65"/><circle cx="1178.33" cy="515.77" r="4.65"/><circle cx="1212.84" cy="483.63" r="4.65"/><circle cx="1247.36" cy="482.04" r="4.65"/><circle cx="1281.87" cy="493.65" r="4.65"/><circle cx="1316.39" cy="525.69" r="4.65"/><circle cx="1350.9" cy="548.31" r="4.65"/><circle cx="1385.41" cy="571.02" r="4.65"/><circle cx="1419.93" cy="580.45" r="4.65"/><circle cx="1454.44" cy="589.57" r="4.65"/><circle cx="1488.96" cy="573.7" r="4.65"/><circle cx="1523.47" cy="554.06" r="4.65"/><circle cx="1557.99" cy="518.94" r="4.65"/><circle cx="1592.5" cy="512" r="4.65"/><circle cx="1627.01" cy="483.23" r="4.65"/><circle cx="1661.53" cy="478.27" r="4.65"/><circle cx="1696.04" cy="487.6" r="4.65"/></g>
<text x="970.35" y="691.45" font-size="17" text-anchor="end" textLength="23.22" lengthAdjust="spacingAndGlyphs">0%</text>
<text x="970.35" y="641.69" font-size="17" text-anchor="end" textLength="32.85" lengthAdjust="spacingAndGlyphs">20%</text>
<text x="970.35" y="591.93" font-size="17" text-anchor="end" textLength="32.85" lengthAdjust="spacingAndGlyphs">40%</text>
<text x="970.35" y="542.17" font-size="17" text-anchor="end" textLength="32.85" lengthAdjust="spacingAndGlyphs">60%</text>
<text x="970.35" y="492.41" font-size="17" text-anchor="end" textLength="32.85" lengthAdjust="spacingAndGlyphs">80%</text>
<text x="970.35" y="442.65" font-size="17" text-anchor="end" textLength="42.48" lengthAdjust="spacingAndGlyphs">100%</text>
<text x="1731.4" y="691.45" font-size="17" textLength="9.3" lengthAdjust="spacingAndGlyphs">0</text>
<text x="1731.4" y="641.69" font-size="17" textLength="9.3" lengthAdjust="spacingAndGlyphs">5</text>
<text x="1731.4" y="591.93" font-size="17" textLength="18.59" lengthAdjust="spacingAndGlyphs">10</text>
<text x="1731.4" y="542.17" font-size="17" textLength="18.59" lengthAdjust="spacingAndGlyphs">15</text>
<text x="1731.4" y="492.41" font-size="17" textLength="18.59" lengthAdjust="spacingAndGlyphs">20</text>
<text x="1731.4" y="442.65" font-size="17" textLength="18.59" lengthAdjust="spacingAndGlyphs">25</text>
<text x="1777.9" y="643.5" font-size="21" textLength="119.3" lengthAdjust="spacingAndGlyphs" transform="rotate(-90 1777.9 643.5)">Temperature</text>
<text x="1777.9" y="512.4" font-size="21" textLength="32.8" lengthAdjust="spacingAndGlyphs" transform="rotate(-90 1777.9 512.4)">(°C)</text>
<text x="1012.16" y="697.9" font-size="17" text-anchor="end" textLength="43.6" lengthAdjust="spacingAndGlyphs" transform="rotate(-90 1012.16 697.9)">8-Feb</text>
<text x="1046.67" y="697.9" font-size="17" text-anchor="end" textLength="57.06" lengthAdjust="spacingAndGlyphs" transform="rotate(-90 1046.67 697.9)">13-Mar</text>
<text x="1081.19" y="697.9" font-size="17" text-anchor="end" textLength="49.4" lengthAdjust="spacingAndGlyphs" transform="rotate(-90 1081.19 697.9)">5-May</text>
<text x="1115.7" y="697.9" font-size="17" text-anchor="end" textLength="59.03" lengthAdjust="spacingAndGlyphs" transform="rotate(-90 1115.7 697.9)">25-May</text>
<text x="1150.21" y="697.9" font-size="17" text-anchor="end" textLength="51.09" lengthAdjust="spacingAndGlyphs" transform="rotate(-90 1150.21 697.9)">20-Jun</text>
<text x="1184.73" y="697.9" font-size="17" text-anchor="end" textLength="45.47" lengthAdjust="spacingAndGlyphs" transform="rotate(-90 1184.73 697.9)">13-Jul</text>
<text x="1219.24" y="697.9" font-size="17" text-anchor="end" textLength="55.01" lengthAdjust="spacingAndGlyphs" transform="rotate(-90 1219.24 697.9)">22-Aug</text>
<text x="1253.76" y="697.9" font-size="17" text-anchor="end" textLength="53.24" lengthAdjust="spacingAndGlyphs" transform="rotate(-90 1253.76 697.9)">27-Sep</text>
<text x="1288.27" y="697.9" font-size="17" text-anchor="end" textLength="52.06" lengthAdjust="spacingAndGlyphs" transform="rotate(-90 1288.27 697.9)">17-Oct</text>
<text x="1322.79" y="697.9" font-size="17" text-anchor="end" textLength="55.96" lengthAdjust="spacingAndGlyphs" transform="rotate(-90 1322.79 697.9)">28-Nov</text>
<text x="1357.3" y="697.9" font-size="17" text-anchor="end" textLength="54.26" lengthAdjust="spacingAndGlyphs" transform="rotate(-90 1357.3 697.9)">18-Dec</text>
<text x="1391.81" y="697.9" font-size="17" text-anchor="end" textLength="50.22" lengthAdjust="spacingAndGlyphs" transform="rotate(-90 1391.81 697.9)">21-Jan</text>
<text x="1426.33" y="697.9" font-size="17" text-anchor="end" textLength="53.24" lengthAdjust="spacingAndGlyphs" transform="rotate(-90 1426.33 697.9)">19-Feb</text>
<text x="1460.84" y="697.9" font-size="17" text-anchor="end" textLength="57.06" lengthAdjust="spacingAndGlyphs" transform="rotate(-90 1460.84 697.9)">21-Mar</text>
<text x="1495.36" y="697.9" font-size="17" text-anchor="end" textLength="52.69" lengthAdjust="spacingAndGlyphs" transform="rotate(-90 1495.36 697.9)">26-Apr</text>
<text x="1529.87" y="697.9" font-size="17" text-anchor="end" textLength="59.03" lengthAdjust="spacingAndGlyphs" transform="rotate(-90 1529.87 697.9)">24-May</text>
<text x="1564.39" y="697.9" font-size="17" text-anchor="end" textLength="35.83" lengthAdjust="spacingAndGlyphs" transform="rotate(-90 1564.39 697.9)">4-Jul</text>
<text x="1598.9" y="697.9" font-size="17" text-anchor="end" textLength="45.47" lengthAdjust="spacingAndGlyphs" transform="rotate(-90 1598.9 697.9)">19-Jul</text>
<text x="1633.41" y="697.9" font-size="17" text-anchor="end" textLength="55.01" lengthAdjust="spacingAndGlyphs" transform="rotate(-90 1633.41 697.9)">30-Aug</text>
<text x="1667.93" y="697.9" font-size="17" text-anchor="end" textLength="53.24" lengthAdjust="spacingAndGlyphs" transform="rotate(-90 1667.93 697.9)">28-Sep</text>
<text x="1702.44" y="697.9" font-size="17" text-anchor="end" textLength="52.06" lengthAdjust="spacingAndGlyphs" transform="rotate(-90 1702.44 697.9)">19-Oct</text>
<text x="899" y="421" font-size="30.4" fill="#000" font-weight="bold">D</text>
</g>
<g id="panelE">
<clipPath id="clipE"><rect x="84.2" y="830.6" width="730.7" height="250.9"/></clipPath>
<g stroke="#000" stroke-width="1.2" clip-path="url(#clipE)">
<rect x="84.6" y="831" width="34.7" height="248.9" fill="#FDE8DA"/>
<rect x="119.3" y="969.28" width="34.7" height="110.62" fill="#FDE8DA"/>
<rect x="119.3" y="831" width="34.7" height="138.28" fill="#F8B283"/>
<rect x="188.7" y="831" width="34.7" height="248.9" fill="#F08032"/>
<rect x="223.4" y="1055.01" width="34.7" height="24.89" fill="#F8B283"/>
<rect x="223.4" y="880.78" width="34.7" height="174.23" fill="#F08032"/>
<rect x="223.4" y="831" width="34.7" height="49.78" fill="url(#hatch)"/>
<rect x="258.1" y="1024.59" width="34.7" height="55.31" fill="#F08032"/>
<rect x="258.1" y="913.97" width="34.7" height="110.62" fill="#C9590E"/>
<rect x="258.1" y="858.66" width="34.7" height="55.31" fill="#85390A"/>
<rect x="258.1" y="831" width="34.7" height="27.66" fill="url(#hatch)"/>
<rect x="292.8" y="1055.01" width="34.7" height="24.89" fill="#F08032"/>
<rect x="292.8" y="980.34" width="34.7" height="74.67" fill="#C9590E"/>
<rect x="292.8" y="831" width="34.7" height="149.34" fill="#85390A"/>
<rect x="431.6" y="831" width="34.7" height="248.9" fill="#FDE8DA"/>
<rect x="466.3" y="831" width="34.7" height="248.9" fill="#FDE8DA"/>
<rect x="501" y="930.56" width="34.7" height="149.34" fill="#FDE8DA"/>
<rect x="501" y="831" width="34.7" height="99.56" fill="#F8B283"/>
<rect x="570.4" y="831" width="34.7" height="248.9" fill="#F08032"/>
<rect x="674.5" y="831" width="34.7" height="248.9" fill="#F08032"/>
<rect x="709.2" y="1055.01" width="34.7" height="24.89" fill="#F08032"/>
<rect x="709.2" y="955.45" width="34.7" height="99.56" fill="#C9590E"/>
<rect x="709.2" y="831" width="34.7" height="124.45" fill="#85390A"/>
<rect x="743.9" y="980.34" width="34.7" height="99.56" fill="#FFFFFF"/>
<rect x="743.9" y="831" width="34.7" height="149.34" fill="#85390A"/>
<rect x="778.6" y="905.67" width="34.7" height="174.23" fill="#FFFFFF"/>
<rect x="778.6" y="831" width="34.7" height="74.67" fill="#FDE8DA"/>
</g>
<path d="M84 1079.9H813.9M84.6 1074.1V1085.9M119.3 1074.1V1085.9M154 1074.1V1085.9M188.7 1074.1V1085.9M223.4 1074.1V1085.9M258.1 1074.1V1085.9M292.8 1074.1V1085.9M327.5 1074.1V1085.9M362.2 1074.1V1085.9M396.9 1074.1V1085.9M431.6 1074.1V1085.9M466.3 1074.1V1085.9M501 1074.1V1085.9M535.7 1074.1V1085.9M570.4 1074.1V1085.9M605.1 1074.1V1085.9M639.8 1074.1V1085.9M674.5 1074.1V1085.9M709.2 1074.1V1085.9M743.9 1074.1V1085.9M778.6 1074.1V1085.9M813.3 1074.1V1085.9" stroke="#000" stroke-width="1.25" fill="none"/>
<polyline points="101.95,990 136.65,986.51 171.35,958.44 206.05,935.24 240.75,924.29 275.45,909.45 310.15,877.2 344.85,875.6 379.55,887.25 414.25,919.41 448.95,942.11 483.65,964.91 518.35,974.37 553.05,983.53 587.75,967.6 622.45,947.88 657.15,912.64 691.85,905.67 726.55,876.8 761.25,871.82 795.95,881.18" fill="none" stroke="#000" stroke-width="2.05" stroke-linejoin="round"/>
<g fill="#000"><circle cx="101.95" cy="990" r="4.65"/><circle cx="136.65" cy="986.51" r="4.65"/><circle cx="171.35" cy="958.44" r="4.65"/><circle cx="206.05" cy="935.24" r="4.65"/><circle cx="240.75" cy="924.29" r="4.65"/><circle cx="275.45" cy="909.45" r="4.65"/><circle cx="310.15" cy="877.2" r="4.65"/><circle cx="344.85" cy="875.6" r="4.65"/><circle cx="379.55" cy="887.25" r="4.65"/><circle cx="414.25" cy="919.41" r="4.65"/><circle cx="448.95" cy="942.11" r="4.65"/><circle cx="483.65" cy="964.91" r="4.65"/><circle cx="518.35" cy="974.37" r="4.65"/><circle cx="553.05" cy="983.53" r="4.65"/><circle cx="587.75" cy="967.6" r="4.65"/><circle cx="622.45" cy="947.88" r="4.65"/><circle cx="657.15" cy="912.64" r="4.65"/><circle cx="691.85" cy="905.67" r="4.65"/><circle cx="726.55" cy="876.8" r="4.65"/><circle cx="761.25" cy="871.82" r="4.65"/><circle cx="795.95" cy="881.18" r="4.65"/></g>
<text x="66.8" y="1085.7" font-size="17" text-anchor="end" textLength="23.22" lengthAdjust="spacingAndGlyphs">0%</text>
<text x="66.8" y="1035.74" font-size="17" text-anchor="end" textLength="32.85" lengthAdjust="spacingAndGlyphs">20%</text>
<text x="66.8" y="985.78" font-size="17" text-anchor="end" textLength="32.85" lengthAdjust="spacingAndGlyphs">40%</text>
<text x="66.8" y="935.82" font-size="17" text-anchor="end" textLength="32.85" lengthAdjust="spacingAndGlyphs">60%</text>
<text x="66.8" y="885.86" font-size="17" text-anchor="end" textLength="32.85" lengthAdjust="spacingAndGlyphs">80%</text>
<text x="66.8" y="835.9" font-size="17" text-anchor="end" textLength="42.48" lengthAdjust="spacingAndGlyphs">100%</text>
<text x="829.2" y="1085.7" font-size="17" textLength="9.3" lengthAdjust="spacingAndGlyphs">0</text>
<text x="829.2" y="1035.74" font-size="17" textLength="9.3" lengthAdjust="spacingAndGlyphs">5</text>
<text x="829.2" y="985.78" font-size="17" textLength="18.59" lengthAdjust="spacingAndGlyphs">10</text>
<text x="829.2" y="935.82" font-size="17" textLength="18.59" lengthAdjust="spacingAndGlyphs">15</text>
<text x="829.2" y="885.86" font-size="17" textLength="18.59" lengthAdjust="spacingAndGlyphs">20</text>
<text x="829.2" y="835.9" font-size="17" textLength="18.59" lengthAdjust="spacingAndGlyphs">25</text>
<text x="875.7" y="1037.35" font-size="21" textLength="119.3" lengthAdjust="spacingAndGlyphs" transform="rotate(-90 875.7 1037.35)">Temperature</text>
<text x="875.7" y="906.25" font-size="21" textLength="32.8" lengthAdjust="spacingAndGlyphs" transform="rotate(-90 875.7 906.25)">(°C)</text>
<text x="108.35" y="1092.2" font-size="17" text-anchor="end" textLength="43.6" lengthAdjust="spacingAndGlyphs" transform="rotate(-90 108.35 1092.2)">8-Feb</text>
<text x="143.05" y="1092.2" font-size="17" text-anchor="end" textLength="57.06" lengthAdjust="spacingAndGlyphs" transform="rotate(-90 143.05 1092.2)">13-Mar</text>
<text x="177.75" y="1092.2" font-size="17" text-anchor="end" textLength="49.4" lengthAdjust="spacingAndGlyphs" transform="rotate(-90 177.75 1092.2)">5-May</text>
<text x="212.45" y="1092.2" font-size="17" text-anchor="end" textLength="59.03" lengthAdjust="spacingAndGlyphs" transform="rotate(-90 212.45 1092.2)">25-May</text>
<text x="247.15" y="1092.2" font-size="17" text-anchor="end" textLength="51.09" lengthAdjust="spacingAndGlyphs" transform="rotate(-90 247.15 1092.2)">20-Jun</text>
<text x="281.85" y="1092.2" font-size="17" text-anchor="end" textLength="45.47" lengthAdjust="spacingAndGlyphs" transform="rotate(-90 281.85 1092.2)">13-Jul</text>
<text x="316.55" y="1092.2" font-size="17" text-anchor="end" textLength="55.01" lengthAdjust="spacingAndGlyphs" transform="rotate(-90 316.55 1092.2)">22-Aug</text>
<text x="351.25" y="1092.2" font-size="17" text-anchor="end" textLength="53.24" lengthAdjust="spacingAndGlyphs" transform="rotate(-90 351.25 1092.2)">27-Sep</text>
<text x="385.95" y="1092.2" font-size="17" text-anchor="end" textLength="52.06" lengthAdjust="spacingAndGlyphs" transform="rotate(-90 385.95 1092.2)">17-Oct</text>
<text x="420.65" y="1092.2" font-size="17" text-anchor="end" textLength="55.96" lengthAdjust="spacingAndGlyphs" transform="rotate(-90 420.65 1092.2)">28-Nov</text>
<text x="455.35" y="1092.2" font-size="17" text-anchor="end" textLength="54.26" lengthAdjust="spacingAndGlyphs" transform="rotate(-90 455.35 1092.2)">18-Dec</text>
<text x="490.05" y="1092.2" font-size="17" text-anchor="end" textLength="50.22" lengthAdjust="spacingAndGlyphs" transform="rotate(-90 490.05 1092.2)">21-Jan</text>
<text x="524.75" y="1092.2" font-size="17" text-anchor="end" textLength="53.24" lengthAdjust="spacingAndGlyphs" transform="rotate(-90 524.75 1092.2)">19-Feb</text>
<text x="559.45" y="1092.2" font-size="17" text-anchor="end" textLength="57.06" lengthAdjust="spacingAndGlyphs" transform="rotate(-90 559.45 1092.2)">21-Mar</text>
<text x="594.15" y="1092.2" font-size="17" text-anchor="end" textLength="52.69" lengthAdjust="spacingAndGlyphs" transform="rotate(-90 594.15 1092.2)">26-Apr</text>
<text x="628.85" y="1092.2" font-size="17" text-anchor="end" textLength="59.03" lengthAdjust="spacingAndGlyphs" transform="rotate(-90 628.85 1092.2)">24-May</text>
<text x="663.55" y="1092.2" font-size="17" text-anchor="end" textLength="35.83" lengthAdjust="spacingAndGlyphs" transform="rotate(-90 663.55 1092.2)">4-Jul</text>
<text x="698.25" y="1092.2" font-size="17" text-anchor="end" textLength="45.47" lengthAdjust="spacingAndGlyphs" transform="rotate(-90 698.25 1092.2)">19-Jul</text>
<text x="732.95" y="1092.2" font-size="17" text-anchor="end" textLength="55.01" lengthAdjust="spacingAndGlyphs" transform="rotate(-90 732.95 1092.2)">30-Aug</text>
<text x="767.65" y="1092.2" font-size="17" text-anchor="end" textLength="53.24" lengthAdjust="spacingAndGlyphs" transform="rotate(-90 767.65 1092.2)">28-Sep</text>
<text x="802.35" y="1092.2" font-size="17" text-anchor="end" textLength="52.06" lengthAdjust="spacingAndGlyphs" transform="rotate(-90 802.35 1092.2)">19-Oct</text>
<text x="-1" y="805.5" font-size="30.4" fill="#000" font-weight="bold">E</text>
</g>
<g id="panelF">
<clipPath id="clipF"><rect x="987.1" y="828.8" width="733.6" height="252.5"/></clipPath>
<g stroke="#000" stroke-width="1.2" clip-path="url(#clipF)">
<rect x="987.5" y="1054.65" width="34.84" height="25.05" fill="#FFFFFF"/>
<rect x="987.5" y="904.35" width="34.84" height="150.3" fill="#E0EEFB"/>
<rect x="987.5" y="829.2" width="34.84" height="75.15" fill="#A0C5EA"/>
<rect x="1022.34" y="996.2" width="34.84" height="83.5" fill="#E0EEFB"/>
<rect x="1022.34" y="829.2" width="34.84" height="167" fill="#A0C5EA"/>
<rect x="1092.01" y="954.45" width="34.84" height="125.25" fill="#A0C5EA"/>
<rect x="1092.01" y="829.2" width="34.84" height="125.25" fill="#5C9CD8"/>
<rect x="1126.85" y="979.5" width="34.84" height="100.2" fill="#A0C5EA"/>
<rect x="1126.85" y="829.2" width="34.84" height="150.3" fill="#5C9CD8"/>
<rect x="1161.69" y="979.5" width="34.84" height="100.2" fill="#5C9CD8"/>
<rect x="1161.69" y="829.2" width="34.84" height="150.3" fill="#2E75B9"/>
<rect x="1196.53" y="1004.55" width="34.84" height="75.15" fill="#2E75B9"/>
<rect x="1196.53" y="829.2" width="34.84" height="175.35" fill="#1E4D7B"/>
<rect x="1335.88" y="854.25" width="34.84" height="225.45" fill="#FFFFFF"/>
<rect x="1335.88" y="829.2" width="34.84" height="25.05" fill="#E0EEFB"/>
<rect x="1370.72" y="1054.65" width="34.84" height="25.05" fill="#FFFFFF"/>
<rect x="1370.72" y="829.2" width="34.84" height="225.45" fill="#E0EEFB"/>
<rect x="1405.56" y="929.4" width="34.84" height="150.3" fill="#E0EEFB"/>
<rect x="1405.56" y="829.2" width="34.84" height="100.2" fill="#A0C5EA"/>
<rect x="1475.23" y="1004.55" width="34.84" height="75.15" fill="#A0C5EA"/>
<rect x="1475.23" y="829.2" width="34.84" height="175.35" fill="#5C9CD8"/>
<rect x="1579.75" y="829.2" width="34.84" height="250.5" fill="#5C9CD8"/>
<rect x="1614.59" y="904.35" width="34.84" height="175.35" fill="#2E75B9"/>
<rect x="1614.59" y="829.2" width="34.84" height="75.15" fill="#1E4D7B"/>
<rect x="1649.42" y="979.5" width="34.84" height="100.2" fill="#FFFFFF"/>
<rect x="1649.42" y="829.2" width="34.84" height="150.3" fill="#1E4D7B"/>
<rect x="1684.26" y="854.25" width="34.84" height="225.45" fill="#FFFFFF"/>
<rect x="1684.26" y="829.2" width="34.84" height="25.05" fill="#1E4D7B"/>
</g>
<path d="M986.9 1079.7H1719.7M987.5 1073.9V1085.7M1022.34 1073.9V1085.7M1057.18 1073.9V1085.7M1092.01 1073.9V1085.7M1126.85 1073.9V1085.7M1161.69 1073.9V1085.7M1196.53 1073.9V1085.7M1231.37 1073.9V1085.7M1266.2 1073.9V1085.7M1301.04 1073.9V1085.7M1335.88 1073.9V1085.7M1370.72 1073.9V1085.7M1405.56 1073.9V1085.7M1440.4 1073.9V1085.7M1475.23 1073.9V1085.7M1510.07 1073.9V1085.7M1544.91 1073.9V1085.7M1579.75 1073.9V1085.7M1614.59 1073.9V1085.7M1649.42 1073.9V1085.7M1684.26 1073.9V1085.7M1719.1 1073.9V1085.7" stroke="#000" stroke-width="1.25" fill="none"/>
<polyline points="1004.92,989.22 1039.76,985.71 1074.6,957.46 1109.43,934.11 1144.27,923.09 1179.11,908.16 1213.95,875.69 1248.79,874.09 1283.62,885.81 1318.46,918.18 1353.3,941.02 1388.14,963.97 1422.98,973.49 1457.81,982.71 1492.65,966.67 1527.49,946.83 1562.33,911.36 1597.17,904.35 1632,875.29 1666.84,870.28 1701.68,879.7" fill="none" stroke="#000" stroke-width="2.05" stroke-linejoin="round"/>
<g fill="#000"><circle cx="1004.92" cy="989.22" r="4.65"/><circle cx="1039.76" cy="985.71" r="4.65"/><circle cx="1074.6" cy="957.46" r="4.65"/><circle cx="1109.43" cy="934.11" r="4.65"/><circle cx="1144.27" cy="923.09" r="4.65"/><circle cx="1179.11" cy="908.16" r="4.65"/><circle cx="1213.95" cy="875.69" r="4.65"/><circle cx="1248.79" cy="874.09" r="4.65"/><circle cx="1283.62" cy="885.81" r="4.65"/><circle cx="1318.46" cy="918.18" r="4.65"/><circle cx="1353.3" cy="941.02" r="4.65"/><circle cx="1388.14" cy="963.97" r="4.65"/><circle cx="1422.98" cy="973.49" r="4.65"/><circle cx="1457.81" cy="982.71" r="4.65"/><circle cx="1492.65" cy="966.67" r="4.65"/><circle cx="1527.49" cy="946.83" r="4.65"/><circle cx="1562.33" cy="911.36" r="4.65"/><circle cx="1597.17" cy="904.35" r="4.65"/><circle cx="1632" cy="875.29" r="4.65"/><circle cx="1666.84" cy="870.28" r="4.65"/><circle cx="1701.68" cy="879.7" r="4.65"/></g>
<text x="969.5" y="1085" font-size="17" text-anchor="end" textLength="23.22" lengthAdjust="spacingAndGlyphs">0%</text>
<text x="969.5" y="1034.82" font-size="17" text-anchor="end" textLength="32.85" lengthAdjust="spacingAndGlyphs">20%</text>
<text x="969.5" y="984.64" font-size="17" text-anchor="end" textLength="32.85" lengthAdjust="spacingAndGlyphs">40%</text>
<text x="969.5" y="934.46" font-size="17" text-anchor="end" textLength="32.85" lengthAdjust="spacingAndGlyphs">60%</text>
<text x="969.5" y="884.28" font-size="17" text-anchor="end" textLength="32.85" lengthAdjust="spacingAndGlyphs">80%</text>
<text x="969.5" y="834.1" font-size="17" text-anchor="end" textLength="42.48" lengthAdjust="spacingAndGlyphs">100%</text>
<text x="1736.9" y="1085" font-size="17" textLength="9.3" lengthAdjust="spacingAndGlyphs">0</text>
<text x="1736.9" y="1034.82" font-size="17" textLength="9.3" lengthAdjust="spacingAndGlyphs">5</text>
<text x="1736.9" y="984.64" font-size="17" textLength="18.59" lengthAdjust="spacingAndGlyphs">10</text>
<text x="1736.9" y="934.46" font-size="17" textLength="18.59" lengthAdjust="spacingAndGlyphs">15</text>
<text x="1736.9" y="884.28" font-size="17" textLength="18.59" lengthAdjust="spacingAndGlyphs">20</text>
<text x="1736.9" y="834.1" font-size="17" textLength="18.59" lengthAdjust="spacingAndGlyphs">25</text>
<text x="1783.4" y="1036.35" font-size="21" textLength="119.3" lengthAdjust="spacingAndGlyphs" transform="rotate(-90 1783.4 1036.35)">Temperature</text>
<text x="1783.4" y="905.25" font-size="21" textLength="32.8" lengthAdjust="spacingAndGlyphs" transform="rotate(-90 1783.4 905.25)">(°C)</text>
<text x="1011.32" y="1092" font-size="17" text-anchor="end" textLength="43.6" lengthAdjust="spacingAndGlyphs" transform="rotate(-90 1011.32 1092)">8-Feb</text>
<text x="1046.16" y="1092" font-size="17" text-anchor="end" textLength="57.06" lengthAdjust="spacingAndGlyphs" transform="rotate(-90 1046.16 1092)">13-Mar</text>
<text x="1081" y="1092" font-size="17" text-anchor="end" textLength="49.4" lengthAdjust="spacingAndGlyphs" transform="rotate(-90 1081 1092)">5-May</text>
<text x="1115.83" y="1092" font-size="17" text-anchor="end" textLength="59.03" lengthAdjust="spacingAndGlyphs" transform="rotate(-90 1115.83 1092)">25-May</text>
<text x="1150.67" y="1092" font-size="17" text-anchor="end" textLength="51.09" lengthAdjust="spacingAndGlyphs" transform="rotate(-90 1150.67 1092)">20-Jun</text>
<text x="1185.51" y="1092" font-size="17" text-anchor="end" textLength="45.47" lengthAdjust="spacingAndGlyphs" transform="rotate(-90 1185.51 1092)">13-Jul</text>
<text x="1220.35" y="1092" font-size="17" text-anchor="end" textLength="55.01" lengthAdjust="spacingAndGlyphs" transform="rotate(-90 1220.35 1092)">22-Aug</text>
<text x="1255.19" y="1092" font-size="17" text-anchor="end" textLength="53.24" lengthAdjust="spacingAndGlyphs" transform="rotate(-90 1255.19 1092)">27-Sep</text>
<text x="1290.02" y="1092" font-size="17" text-anchor="end" textLength="52.06" lengthAdjust="spacingAndGlyphs" transform="rotate(-90 1290.02 1092)">17-Oct</text>
<text x="1324.86" y="1092" font-size="17" text-anchor="end" textLength="55.96" lengthAdjust="spacingAndGlyphs" transform="rotate(-90 1324.86 1092)">28-Nov</text>
<text x="1359.7" y="1092" font-size="17" text-anchor="end" textLength="54.26" lengthAdjust="spacingAndGlyphs" transform="rotate(-90 1359.7 1092)">18-Dec</text>
<text x="1394.54" y="1092" font-size="17" text-anchor="end" textLength="50.22" lengthAdjust="spacingAndGlyphs" transform="rotate(-90 1394.54 1092)">21-Jan</text>
<text x="1429.38" y="1092" font-size="17" text-anchor="end" textLength="53.24" lengthAdjust="spacingAndGlyphs" transform="rotate(-90 1429.38 1092)">19-Feb</text>
<text x="1464.21" y="1092" font-size="17" text-anchor="end" textLength="57.06" lengthAdjust="spacingAndGlyphs" transform="rotate(-90 1464.21 1092)">21-Mar</text>
<text x="1499.05" y="1092" font-size="17" text-anchor="end" textLength="52.69" lengthAdjust="spacingAndGlyphs" transform="rotate(-90 1499.05 1092)">26-Apr</text>
<text x="1533.89" y="1092" font-size="17" text-anchor="end" textLength="59.03" lengthAdjust="spacingAndGlyphs" transform="rotate(-90 1533.89 1092)">24-May</text>
<text x="1568.73" y="1092" font-size="17" text-anchor="end" textLength="35.83" lengthAdjust="spacingAndGlyphs" transform="rotate(-90 1568.73 1092)">4-Jul</text>
<text x="1603.57" y="1092" font-size="17" text-anchor="end" textLength="45.47" lengthAdjust="spacingAndGlyphs" transform="rotate(-90 1603.57 1092)">19-Jul</text>
<text x="1638.4" y="1092" font-size="17" text-anchor="end" textLength="55.01" lengthAdjust="spacingAndGlyphs" transform="rotate(-90 1638.4 1092)">30-Aug</text>
<text x="1673.24" y="1092" font-size="17" text-anchor="end" textLength="53.24" lengthAdjust="spacingAndGlyphs" transform="rotate(-90 1673.24 1092)">28-Sep</text>
<text x="1708.08" y="1092" font-size="17" text-anchor="end" textLength="52.06" lengthAdjust="spacingAndGlyphs" transform="rotate(-90 1708.08 1092)">19-Oct</text>
<text x="899.5" y="805.5" font-size="30.4" fill="#000" font-weight="bold">F</text>
</g>
<text x="224" y="1194.6" font-size="28" fill="#6f6f6f">2017</text>
<text x="557.5" y="1194.6" font-size="28" fill="#6f6f6f">2018</text>
<text x="1127.3" y="1194.2" font-size="28" fill="#6f6f6f">2017</text>
<text x="1460.9" y="1194.2" font-size="28" fill="#6f6f6f">2018</text>
<g id="legendL">
<rect x="56" y="1228.6" width="17.6" height="17.4" fill="#FFFFFF" stroke="#000" stroke-width="1.4"/>
<text x="81.5" y="1245.9" font-size="27.4" textLength="113.5" lengthAdjust="spacingAndGlyphs">INACTIVE</text>
<rect x="221.5" y="1228.6" width="17.6" height="17.4" fill="#FDE8DA" stroke="#000" stroke-width="1.4"/>
<text x="247" y="1245.9" font-size="27.4" textLength="33" lengthAdjust="spacingAndGlyphs">ED</text>
<rect x="305.2" y="1228.6" width="17.6" height="17.4" fill="#F8B283" stroke="#000" stroke-width="1.4"/>
<text x="329.5" y="1245.9" font-size="27.4" textLength="31" lengthAdjust="spacingAndGlyphs">LD</text>
<rect x="386.7" y="1228.6" width="17.6" height="17.4" fill="#F08032" stroke="#000" stroke-width="1.4"/>
<text x="411.8" y="1245.9" font-size="27.4" textLength="15.6" lengthAdjust="spacingAndGlyphs">R</text>
<rect x="452.9" y="1228.6" width="17.6" height="17.4" fill="#C9590E" stroke="#000" stroke-width="1.4"/>
<text x="478.3" y="1245.9" font-size="27.4" textLength="28.6" lengthAdjust="spacingAndGlyphs">PS</text>
<rect x="532.5" y="1228.6" width="17.6" height="17.4" fill="#85390A" stroke="#000" stroke-width="1.4"/>
<text x="557.5" y="1245.9" font-size="27.4" textLength="13.6" lengthAdjust="spacingAndGlyphs">S</text>
<rect x="596.4" y="1228.6" width="17.6" height="17.4" fill="url(#hatch)" stroke="#000" stroke-width="1.2"/>
<text x="622.2" y="1245.9" font-size="27.4" textLength="193.5" lengthAdjust="spacingAndGlyphs">REABSORPTION</text>
</g>
<g id="legendR">
<rect x="1090.2" y="1228.9" width="17.6" height="17.4" fill="#FFFFFF" stroke="#000" stroke-width="1.4"/>
<text x="1115.2" y="1246.2" font-size="27.4" textLength="113.5" lengthAdjust="spacingAndGlyphs">INACTIVE</text>
<rect x="1251.2" y="1228.9" width="17.6" height="17.4" fill="#E0EEFB" stroke="#000" stroke-width="1.4"/>
<text x="1276.5" y="1246.2" font-size="27.4" textLength="33" lengthAdjust="spacingAndGlyphs">ED</text>
<rect x="1330" y="1228.9" width="17.6" height="17.4" fill="#A0C5EA" stroke="#000" stroke-width="1.4"/>
<text x="1355.4" y="1246.2" font-size="27.4" textLength="31" lengthAdjust="spacingAndGlyphs">LD</text>
<rect x="1407.6" y="1228.9" width="17.6" height="17.4" fill="#5C9CD8" stroke="#000" stroke-width="1.4"/>
<text x="1432.9" y="1246.2" font-size="27.4" textLength="15.6" lengthAdjust="spacingAndGlyphs">R</text>
<rect x="1470.6" y="1228.9" width="17.6" height="17.4" fill="#2E75B9" stroke="#000" stroke-width="1.4"/>
<text x="1495.3" y="1246.2" font-size="27.4" textLength="28.6" lengthAdjust="spacingAndGlyphs">PS</text>
<rect x="1545.5" y="1228.9" width="17.6" height="17.4" fill="#1E4D7B" stroke="#000" stroke-width="1.4"/>
<text x="1570.2" y="1246.2" font-size="27.4" textLength="13.6" lengthAdjust="spacingAndGlyphs">S</text>
</g>
</svg></body></html>
